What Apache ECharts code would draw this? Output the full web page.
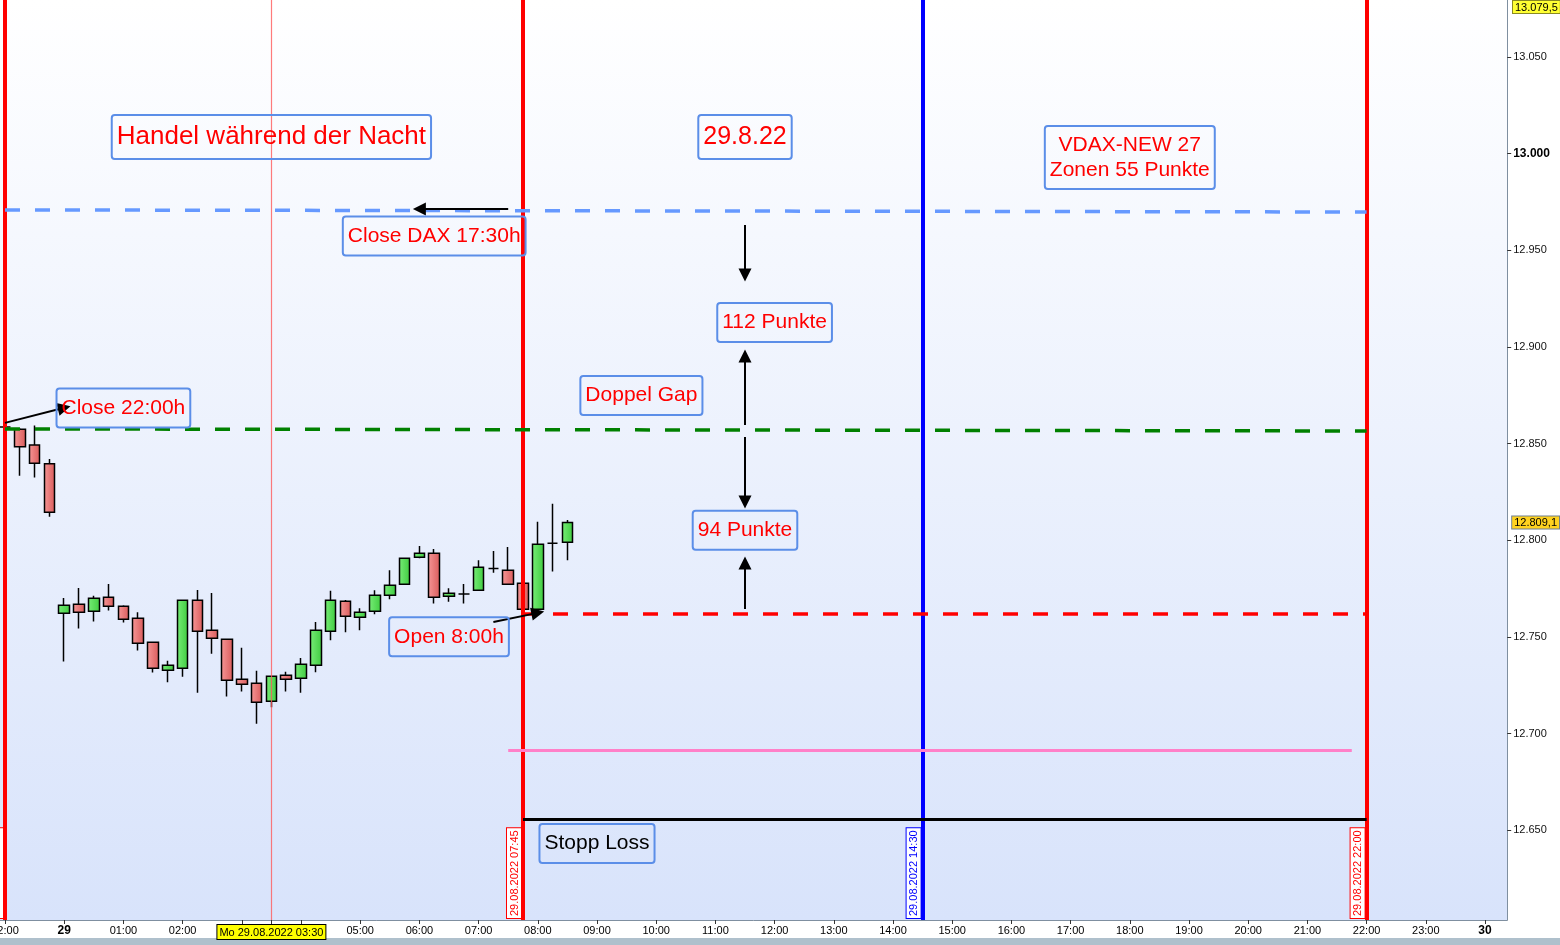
<!DOCTYPE html>
<html><head><meta charset="utf-8">
<script src="https://cdn.jsdelivr.net/npm/echarts@6/dist/echarts.min.js"></script>
<style>html,body{margin:0;padding:0;background:#fff}#c{width:1560px;height:945px}</style>
</head><body><div id="c"></div>
<script>
// 15-minute slots of the time axis
const categories = [
 '26.08 22:00','28.08 23:15','28.08 23:30','28.08 23:45',
 '00:00','00:15','00:30','00:45','01:00','01:15','01:30','01:45',
 '02:00','02:15','02:30','02:45','03:00','03:15','03:30','03:45',
 '04:00','04:15','04:30','04:45','05:00','05:15','05:30','05:45',
 '06:00','06:15','06:30','06:45','07:00','07:15','07:30','07:45',
 '08:00','08:15','08:30','08:45','09:00','09:15','09:30','09:45',
 '10:00','10:15','10:30','10:45','11:00','11:15','11:30','11:45',
 '12:00','12:15','12:30','12:45','13:00','13:15','13:30','13:45',
 '14:00','14:15','14:30','14:45','15:00','15:15','15:30','15:45',
 '16:00','16:15','16:30','16:45','17:00','17:15','17:30','17:45',
 '18:00','18:15','18:30','18:45','19:00','19:15','19:30','19:45',
 '20:00','20:15','20:30','20:45','21:00','21:15','21:30','21:45',
 '22:00','22:15','22:30','22:45','23:00','23:15','23:30','23:45',
 '30 00:00','30 00:15'
];
const opens  = [12858.6,12857.4,12849.3,12839.5,12762.2,12766.9,12763.3,12770.5,12765.8,12759.6,12747.2,12732.7,12733.8,12768.9,12753.4,12748.8,12728.1,12726.0,12716.7,12730.1,12728.6,12735.3,12752.9,12768.4,12760.2,12763.3,12771.5,12777.2,12791.2,12793.3,12771.0,12772.2,12774.1,12785.3,12784.5,12777.7,12764.3,12798.4,12798.9];
const closes = [12858.6,12848.4,12839.8,12814.5,12766.4,12762.7,12770.0,12765.8,12759.1,12746.7,12733.8,12735.3,12768.9,12752.9,12749.3,12727.6,12725.5,12716.2,12729.6,12728.1,12735.8,12753.4,12768.9,12760.7,12762.7,12771.5,12776.7,12790.7,12793.3,12770.5,12772.6,12772.2,12786.0,12785.3,12777.2,12764.3,12797.9,12798.4,12809.1];
const lows   = [12857.5,12833.4,12832.4,12812.2,12737.2,12754.3,12757.9,12763.6,12757.4,12742.9,12731.5,12726.5,12729.4,12721.1,12741.3,12719.1,12721.7,12705.1,12713.6,12721.7,12721.1,12731.7,12748.2,12752.4,12753.4,12761.7,12769.5,12777.0,12790.7,12767.2,12768.2,12767.2,12774.0,12783.2,12777.0,12763.0,12763.1,12783.8,12789.6];
const highs  = [12859.5,12858.0,12859.3,12842.0,12770.1,12775.3,12771.2,12777.4,12766.3,12762.7,12747.5,12737.6,12769.2,12774.3,12772.7,12749.0,12744.3,12732.4,12729.8,12731.9,12739.1,12757.7,12773.8,12769.1,12764.8,12774.1,12784.5,12791.0,12797.0,12795.5,12775.2,12777.4,12789.6,12794.4,12796.5,12778.0,12809.5,12818.8,12810.5];

const yTicks = [12650,12700,12750,12800,12850,12900,12950,13000,13050];
const yMin = 12603.5, yMax = 13079.5;
const xLabelMap = {
 '26.08 22:00':'22:00','00:00':'29','01:00':'01:00','02:00':'02:00','03:30':'Mo 29.08.2022 03:30',
 '05:00':'05:00','06:00':'06:00','07:00':'07:00','08:00':'08:00','09:00':'09:00','10:00':'10:00',
 '11:00':'11:00','12:00':'12:00','13:00':'13:00','14:00':'14:00','15:00':'15:00','16:00':'16:00',
 '17:00':'17:00','18:00':'18:00','19:00':'19:00','20:00':'20:00','21:00':'21:00','22:00':'22:00',
 '23:00':'23:00','30 00:00':'30'
};
// horizontal levels
const levelCloseDax = [12970.9, 12969.8];
const levelClose22 = [12857.6, 12856.5];
const levelOpen8 = 12761.9;
const levelPink = 12691.5;
const levelStop = 12655.8;
const lastPrice = 12809.1;

const FONT = 'Liberation Sans';
const candleData = opens.map((o, i) => [o, closes[i], lows[i], highs[i]]);

function grad(a, b) {
  return {type:'linear', x:0, y:0, x2:1, y2:0, colorStops:[{offset:0,color:a},{offset:1,color:b}]};
}
function vLabel(text, color) {
  return {show:true, position:'insideStartTop', formatter:text, color:color, fontFamily:FONT, fontSize:11,
    backgroundColor:'#ffffff', borderColor:color, borderWidth:1, padding:[2,2,1,2], distance:[2,2]};
}
function seg(c1, v1, c2, v2, style) {
  return [{coord:[c1, v1], lineStyle:style}, {coord:[c2, v2]}];
}
function note(cat, val, text, opts) {
  return Object.assign({coord:[cat, val], label:Object.assign({formatter:text}, opts || {})});
}

const chart = echarts.init(document.getElementById('c'));
const option = {
  animation:false,
  grid:{left:-2.4, right:52.8, top:0, bottom:25, show:true, borderWidth:0, containLabel:false, outerBoundsMode:'none',
    backgroundColor:{type:'linear', x:0, y:0, x2:0, y2:1, colorStops:[{offset:0,color:'#FFFFFF'},{offset:1,color:'#D8E3FB'}]}},
  xAxis:{type:'category', data:categories, boundaryGap:true,
    axisLine:{show:true, lineStyle:{color:'#7F8FA0', width:1}},
    axisTick:{show:true, alignWithLabel:true, length:4, lineStyle:{color:'#333'},
      interval:(i, name) => name.endsWith(':00') || name === '03:30'},
    axisLabel:{interval:(i, name) => name in xLabelMap, margin:5, color:'#000', fontFamily:FONT, fontSize:11,
      formatter:(name) => {
        const t = xLabelMap[name] || '';
        if (name === '03:30') return '{hl|' + t + '}';
        if (t === '29' || t === '30') return '{b|' + t + '}';
        return t;
      },
      rich:{
        hl:{backgroundColor:'#FFFF00', borderColor:'#000', borderWidth:1, padding:[2,2,1,2], fontSize:11, color:'#000', fontFamily:FONT},
        b:{fontWeight:'bold', fontSize:12, color:'#000', fontFamily:FONT}
      }},
    splitLine:{show:false}},
  yAxis:{type:'value', position:'right', min:yMin, max:yMax, scale:true,
    axisLine:{show:true, lineStyle:{color:'#7F8FA0'}},
    axisTick:{show:true, customValues:yTicks, length:4, lineStyle:{color:'#333'}},
    splitLine:{show:false},
    axisLabel:{customValues:yTicks, margin:6, color:'#111', fontFamily:FONT, fontSize:11,
      formatter:(v) => { const s = (v/1000).toFixed(3); return v === 13000 ? '{b|' + s + '}' : s; },
      rich:{b:{fontWeight:'bold', fontSize:12, color:'#000', fontFamily:FONT}}}},
  series:[
    {type:'candlestick', data:candleData, barWidth:11,
      itemStyle:{color:grad('#78EE78','#3FCB3F'), color0:grad('#F69898','#D95A5A'),
        borderColor:'#000', borderColor0:'#000', borderColorDoji:'#000', borderWidth:1.5},
      markLine:{silent:true, symbol:['none','none'], animation:false, label:{show:false},
        data:[
          {xAxis:categories[0], lineStyle:{color:'#FF0000', width:4, type:'solid'}, label:vLabel('26.08.2022 22:00','#FF0000')},
          {xAxis:'03:30', lineStyle:{color:'#FF5A5A', width:1.2, type:'solid', opacity:0.8}},
          {xAxis:'07:45', lineStyle:{color:'#FF0000', width:4, type:'solid'}, label:vLabel('29.08.2022 07:45','#FF0000')},
          {xAxis:'14:30', lineStyle:{color:'#0000FF', width:4, type:'solid'}, label:vLabel('29.08.2022 14:30','#0000FF')},
          {xAxis:'22:00', lineStyle:{color:'#FF0000', width:4, type:'solid'}, label:vLabel('29.08.2022 22:00','#FF0000')},
          seg(categories[0], levelCloseDax[0], '22:00', levelCloseDax[1], {color:'#6699FF', width:3.5, type:[15,15]}),
          seg(categories[0], levelClose22[0], '22:00', levelClose22[1], {color:'#008000', width:3.5, type:[15,15]}),
          seg('07:45', levelOpen8, '22:00', levelOpen8, {color:'#FF0000', width:3.5, type:[15,15]}),
          seg('07:30', levelPink, '21:45', levelPink, {color:'#FF80C8', width:3, type:'solid'}),
          seg('07:45', levelStop, '22:00', levelStop, {color:'#000000', width:3, type:'solid'}),
          {yAxis:lastPrice, lineStyle:{color:'transparent', width:1, type:'solid'},
            label:{show:true, position:'end', formatter:'12.809,1', color:'#000', fontFamily:FONT, fontSize:11,
              backgroundColor:'#FFD21F', borderColor:'#6F7F8F', borderWidth:1, padding:[1,2,0,2], distance:5}}
        ]}
    },
    {type:'line', data:[], silent:true,
      markLine:{silent:true, animation:false, symbol:['none','triangle'], symbolSize:13,
        lineStyle:{color:'#000', width:2, type:'solid'}, label:{show:false},
        data:[
          [{coord:['07:30', 12971.4]}, {coord:['06:00', 12971.4]}],
          [{coord:['11:30', 12963.1]}, {coord:['11:30', 12937.2]}],
          [{coord:['11:30', 12859.6]}, {coord:['11:30', 12895.3]}],
          [{coord:['11:30', 12853.4]}, {coord:['11:30', 12819.8]}],
          [{coord:['11:30', 12764.4]}, {coord:['11:30', 12788.2]}],
          [{coord:[categories[0], 12860.7]}, {coord:['00:00', 12868.5]}],
          [{coord:['07:15', 12757.7]}, {coord:['08:00', 12762.4]}]
        ]}
    },
    {type:'line', data:[], silent:true,
      markPoint:{silent:true, animation:false, symbol:'rect', symbolSize:1, itemStyle:{color:'transparent'},
        label:{show:true, position:'inside', color:'#FF0000', fontFamily:FONT, fontSize:21, lineHeight:24,
          backgroundColor:'transparent', borderColor:'#5B8EE8', borderWidth:1, borderRadius:3, padding:[8,5,7,5], align:'center'},
        data:[
          note('03:30', 13008.6, 'Handel während der Nacht', {fontSize:26, lineHeight:28, padding:[8,5,8,5]}),
          note('11:30', 13008.6, '29.8.22', {fontSize:25, lineHeight:28, padding:[8,5,8,5]}),
          note('18:00', 12998.0, 'VDAX-NEW 27\nZonen 55 Punkte', {lineHeight:25, padding:[6,5,7,5]}),
          note('06:15', 12957.4, 'Close DAX 17:30h'),
          note('12:00', 12912.7, '112 Punkte'),
          note('09:45', 12874.9, 'Doppel Gap'),
          note('01:00', 12868.4, 'Close 22:00h'),
          note('11:30', 12805.1, '94 Punkte'),
          note('06:30', 12750.0, 'Open 8:00h'),
          note('09:00', 12643.1, 'Stopp Loss', {color:'#000'})
        ]}
    }
  ],
  graphic:[
    {type:'rect', left:0, top:938, silent:true, shape:{width:1560, height:7}, style:{fill:'#AFC0CC'}},
    {type:'text', left:1512, top:0, silent:true,
      style:{text:'13.079,5', fill:'#000', font:'11px "Liberation Sans"', backgroundColor:'#FFFF33',
        borderColor:'#8A8A20', borderWidth:1, padding:[1,2,0,2]}}
  ]
};
chart.setOption(option);
</script></body></html>
